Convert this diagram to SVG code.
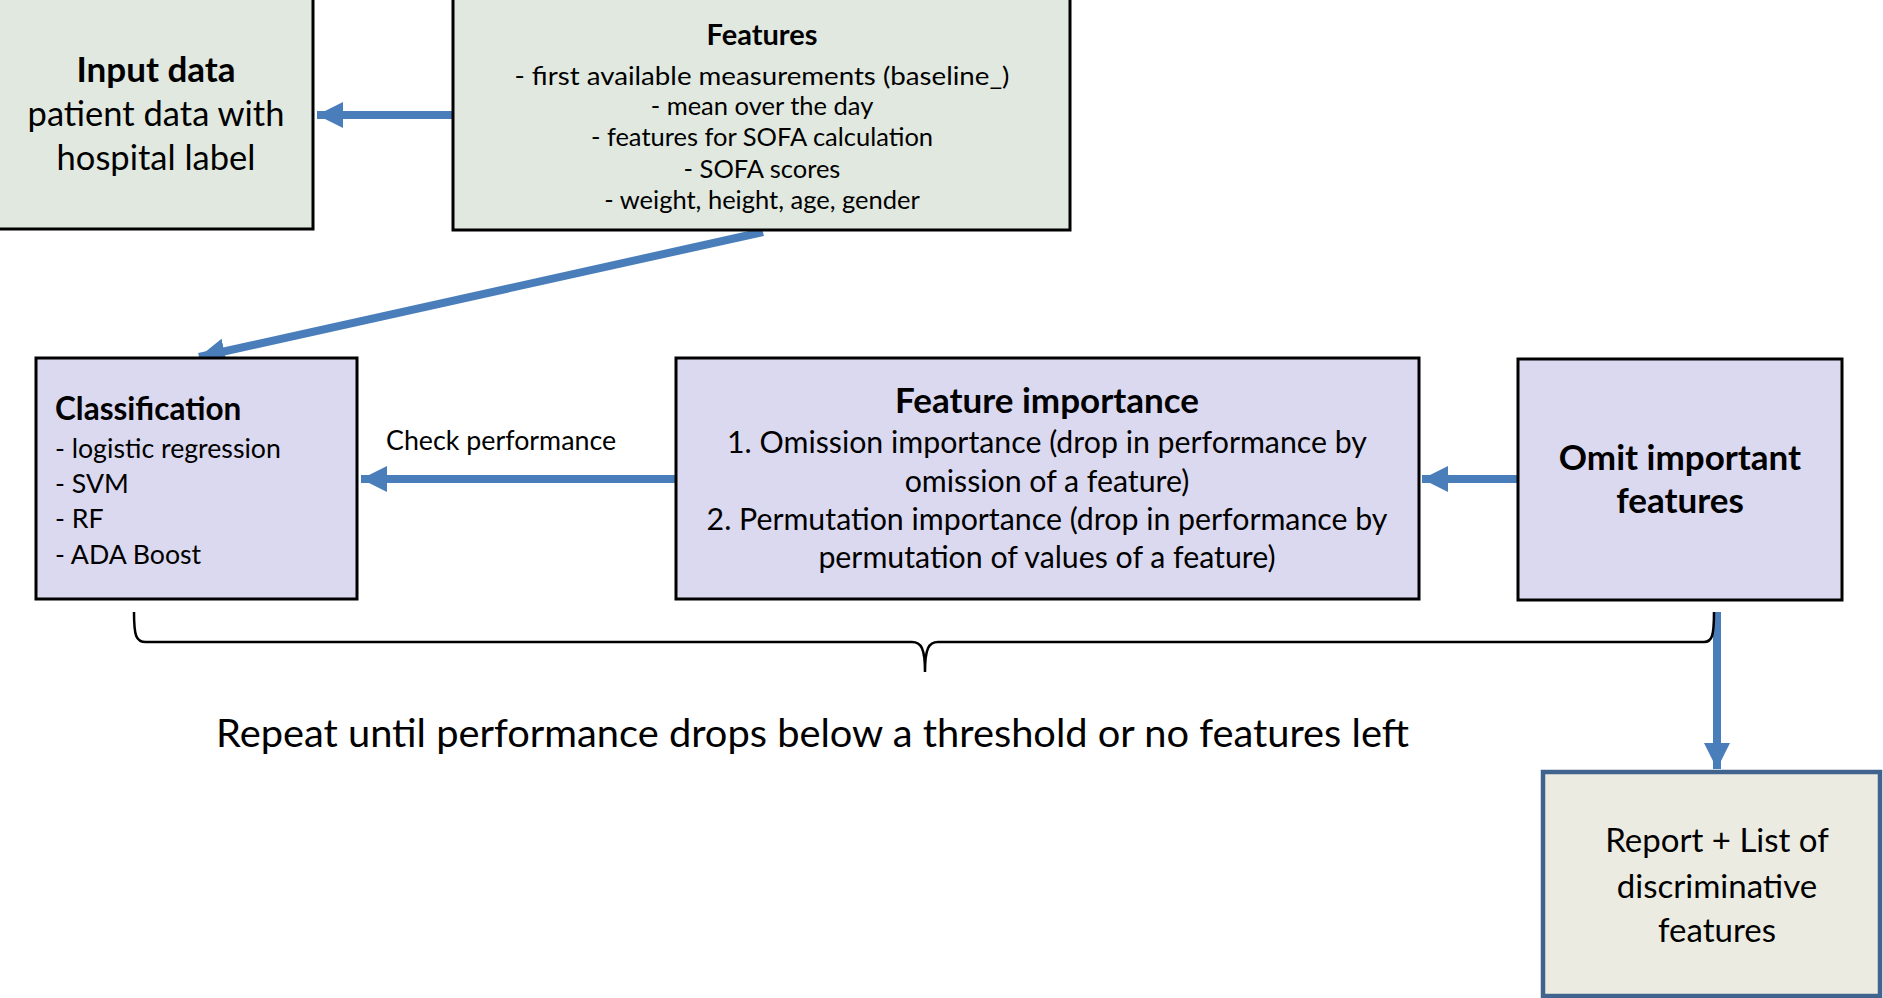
<svg xmlns="http://www.w3.org/2000/svg" width="1883" height="998" viewBox="0 0 1883 998">
  <defs>
    <style>
      text { font-family: Lato, "Liberation Sans", sans-serif; fill: #000; }
      .b { font-weight: bold; }
      .c { text-anchor: middle; }
      .green { fill: #e0e8df; stroke: #000; stroke-width: 3; }
      .lav { fill: #dbd9ef; stroke: #000; stroke-width: 3; }
      .rep { fill: #ecebe1; stroke: #41648f; stroke-width: 4.5; }
      .arr { stroke: #4a7ebb; stroke-width: 8; fill: none; marker-end: url(#ah); }
      .brace { stroke: #000; stroke-width: 2.5; fill: none; }
    </style>
    <marker id="ah" markerUnits="userSpaceOnUse" markerWidth="28" markerHeight="28" viewBox="0 0 28 28" refX="26" refY="14" orient="auto">
      <path d="M0,1 L26,14 L0,27 Z" fill="#4a7ebb"/>
    </marker>
  </defs>
  <rect width="1883" height="998" fill="#fff"/>

  <g id="connectors">
    <line class="arr" x1="453" y1="115" x2="317" y2="115"/>
    <line class="arr" x1="763" y1="232" x2="199" y2="357"/>
    <line class="arr" x1="676" y1="479" x2="361" y2="479"/>
    <line class="arr" x1="1518" y1="479" x2="1422" y2="479"/>
    <line class="arr" x1="1717" y1="612" x2="1717" y2="769"/>
    <path id="brace" class="brace" d="M134,612 C134,636 136,642 146,642 L912,642 C921,642 925,648 925,672 C925,648 929,642 938,642 L1704,642 C1712,642 1714,636 1714,612"/>
  </g>

  <g id="input-data">
    <rect class="green" x="-4" y="-4" width="317" height="233"/>
    <text class="b c" x="156" y="82" font-size="35">Input data</text>
    <text class="c" x="156" y="126" font-size="34.5">patient data with</text>
    <text class="c" x="156" y="170" font-size="34.5">hospital label</text>
  </g>

  <g id="features">
    <rect class="green" x="453" y="-4" width="617" height="234"/>
    <text class="b c" x="762" y="45" font-size="29">Features</text>
    <text class="c" x="762" y="85" font-size="25.5" textLength="495" lengthAdjust="spacingAndGlyphs">- first available measurements (baseline_)</text>
    <text class="c" x="762" y="115" font-size="25.5">- mean over the day</text>
    <text class="c" x="762" y="146" font-size="25.5">- features for SOFA calculation</text>
    <text class="c" x="762" y="178" font-size="25.5">- SOFA scores</text>
    <text class="c" x="762" y="209" font-size="25.5">- weight, height, age, gender</text>
  </g>

  <g id="classification">
    <rect class="lav" x="36" y="358" width="321" height="241"/>
    <text class="b" x="55" y="420" font-size="31.5">Classification</text>
    <text x="55" y="458" font-size="26.7">- logistic regression</text>
    <text x="55" y="493" font-size="26.7">- SVM</text>
    <text x="55" y="528" font-size="26.7">- RF</text>
    <text x="55" y="564" font-size="26.7">- ADA Boost</text>
  </g>

  <text id="check-performance" x="386" y="450" font-size="26.8">Check performance</text>

  <g id="feature-importance">
    <rect class="lav" x="676" y="358" width="743" height="241"/>
    <text class="b c" x="1047" y="413" font-size="35">Feature importance</text>
    <text class="c" x="1047" y="453" font-size="30.3">1. Omission importance (drop in performance by</text>
    <text class="c" x="1047" y="492" font-size="30.3">omission of a feature)</text>
    <text class="c" x="1047" y="530" font-size="30.3">2. Permutation importance (drop in performance by</text>
    <text class="c" x="1047" y="568" font-size="30.3">permutation of values of a feature)</text>
  </g>

  <g id="omit-features">
    <rect class="lav" x="1518" y="359" width="324" height="241"/>
    <text class="b c" x="1680" y="470" font-size="35">Omit important</text>
    <text class="b c" x="1680" y="513" font-size="35">features</text>
  </g>

  <text id="repeat-label" x="216" y="747" font-size="38" textLength="1193" lengthAdjust="spacingAndGlyphs">Repeat until performance drops below a threshold or no features left</text>

  <g id="report">
    <rect class="rep" x="1543" y="772" width="337" height="224"/>
    <text class="c" x="1717" y="852" font-size="33">Report + List of</text>
    <text class="c" x="1717" y="898" font-size="33">discriminative</text>
    <text class="c" x="1717" y="942" font-size="33">features</text>
  </g>
</svg>
